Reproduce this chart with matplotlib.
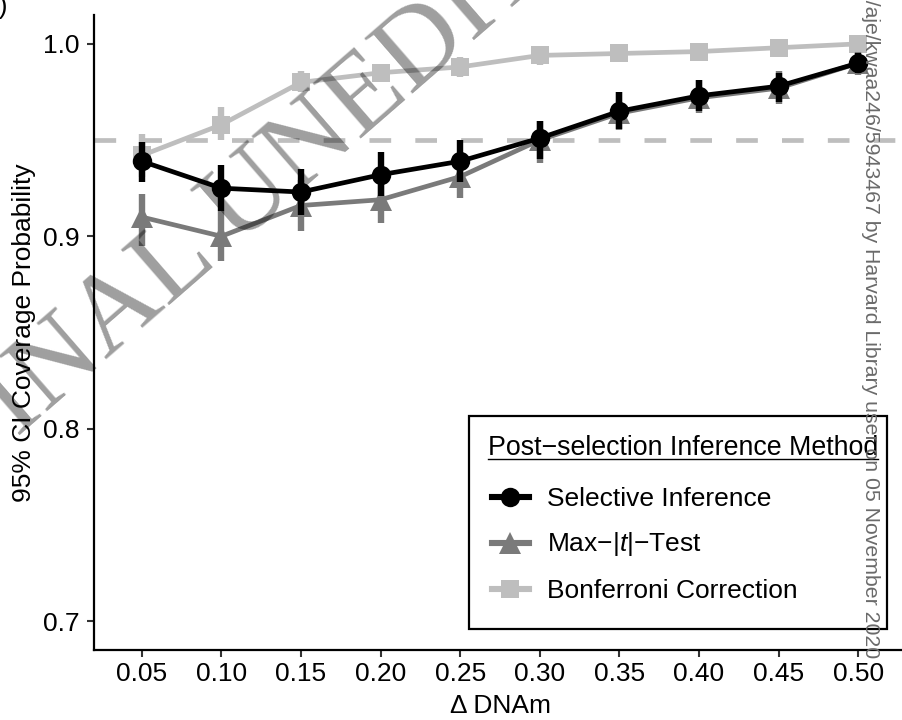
import matplotlib
matplotlib.use("Agg")
import matplotlib.pyplot as plt
from matplotlib.patches import Rectangle
from matplotlib.lines import Line2D

plt.rcParams["font.family"] = ["Liberation Sans", "DejaVu Sans"]
plt.rcParams["mathtext.fontset"] = "custom"
plt.rcParams["mathtext.rm"] = "Liberation Sans"
plt.rcParams["mathtext.it"] = "Liberation Sans:italic"
plt.rcParams["lines.scale_dashes"] = False

# ---- data -------------------------------------------------------------
delta = [0.05, 0.10, 0.15, 0.20, 0.25, 0.30, 0.35, 0.40, 0.45, 0.50]
x_tick_labels = ["0.05", "0.10", "0.15", "0.20", "0.25",
                 "0.30", "0.35", "0.40", "0.45", "0.50"]
y_ticks = [0.7, 0.8, 0.9, 1.0]
y_tick_labels = ["0.7", "0.8", "0.9", "1.0"]
nominal = 0.95

methods = ["Selective Inference", "Max\u2212|$t$|\u2212Test", "Bonferroni Correction"]

si_cov = [0.939, 0.925, 0.923, 0.932, 0.939, 0.951, 0.965, 0.973, 0.978, 0.990]
si_lo = [0.928, 0.913, 0.911, 0.921, 0.928, 0.940, 0.956, 0.965, 0.970, 0.985]
si_hi = [0.949, 0.937, 0.935, 0.944, 0.950, 0.960, 0.975, 0.981, 0.985, 0.995]

mt_cov = [0.910, 0.900, 0.916, 0.919, 0.931, 0.950, 0.964, 0.972, 0.977, 0.990]
mt_lo = [0.895, 0.887, 0.903, 0.907, 0.920, 0.938, 0.955, 0.964, 0.969, 0.984]
mt_hi = [0.922, 0.913, 0.929, 0.931, 0.943, 0.960, 0.975, 0.981, 0.986, 0.996]

bf_cov = [0.942, 0.958, 0.980, 0.985, 0.988, 0.994, 0.995, 0.996, 0.998, 1.000]
bf_lo = [0.931, 0.950, 0.975, 0.980, 0.983, 0.989, 0.991, 0.992, 0.995, 1.000]
bf_hi = [0.953, 0.967, 0.986, 0.989, 0.993, 0.998, 0.999, 0.999, 1.000, 1.000]

# ---- styles -----------------------------------------------------------
BLACK, DARK, LIGHT = "#000000", "#7a7a7a", "#bebebe"
series = [
    (methods[2], bf_cov, bf_lo, bf_hi, LIGHT, "s", 12.5),
    (methods[1], mt_cov, mt_lo, mt_hi, DARK, "^", 16),
    (methods[0], si_cov, si_lo, si_hi, BLACK, "o", 14),
]
LINE_W = 3.4
BAR_W = 4.6
FS = 19

W, H = 902, 720
fig = plt.figure(figsize=(W / 100, H / 100), dpi=100)
ax = fig.add_axes([94 / W, (H - 650) / H, (906 - 94) / W, (650 - 15) / H])

def fx(px):
    return px / W

def fy(py):
    return 1 - py / H

# reference level
ax.axhline(nominal, color=LIGHT, lw=3.4, dashes=(15.6, 17.4), zorder=1)

for i, (name, cov, lo, hi, col, mk, ms) in enumerate(series):
    z = 2 + i
    ax.vlines(delta, lo, hi, color=col, lw=BAR_W, zorder=z, capstyle="butt")
    ax.plot(delta, cov, color=col, lw=LINE_W, marker=mk, ms=ms,
            markeredgewidth=0, zorder=z + 0.5, clip_on=False,
            solid_joinstyle="round")

ax.set_xlim(0.02, 0.53)
ax.set_ylim(0.685, 1.015)
ax.set_xticks(delta)
ax.set_xticklabels(x_tick_labels)
ax.set_yticks(y_ticks)
ax.set_yticklabels(y_tick_labels)
for s in ("top", "right"):
    ax.spines[s].set_visible(False)
for s in ("left", "bottom"):
    ax.spines[s].set_linewidth(1.6)
    ax.spines[s].set_color("black")
ax.tick_params(axis="both", length=5, width=1.5, color="#333333",
               labelsize=FS, labelcolor="black")
ax.tick_params(axis="y", pad=5.5)
ax.tick_params(axis="x", pad=3.5)
ax.set_xlabel("\u0394 DNAm", fontsize=FS, labelpad=6)
ax.set_ylabel("95% CI Coverage Probability", fontsize=FS, labelpad=5)

# ---- legend -----------------------------------------------------------
fig.patches.append(Rectangle((fx(469), fy(629)), fx(887) - fx(469),
                             fy(416) - fy(629), transform=fig.transFigure,
                             fill=False, edgecolor="black", lw=1.6, zorder=10))
title = fig.text(fx(488), fy(455), "Post\u2212selection Inference Method",
                 fontsize=19.3, va="baseline", ha="left", zorder=11)
key_y = [497, 543, 589]
label_base = [505.5, 551.5, 598]
legend_order = [series[2], series[1], series[0]]
for (name, cov, lo, hi, col, mk, ms), ky, lb in zip(legend_order, key_y, label_base):
    fig.add_artist(Line2D([fx(492), fx(529)], [fy(ky), fy(ky)],
                          transform=fig.transFigure, color=col, lw=LINE_W + 1,
                          marker=None, zorder=11))
    fig.add_artist(Line2D([fx(510.5)], [fy(ky)], transform=fig.transFigure,
                          color=col, marker=mk, ms=ms, markeredgewidth=0,
                          lw=0, zorder=12))
    fig.text(fx(547), fy(lb), name, fontsize=FS, va="baseline", ha="left",
             zorder=11)

fig.canvas.draw()
bb = title.get_window_extent()
fig.add_artist(Line2D([bb.x0 / W, bb.x1 / W], [fy(459), fy(459)],
                      transform=fig.transFigure, color="black", lw=1.0,
                      zorder=11))

# panel tag (partly off the page)
fig.text(fx(8), fy(14), "b)", fontsize=FS, ha="right", va="baseline")

# diagonal manuscript stamp
fig.text(fx(-30), fy(478), "FINAL UNEDITED MANUSCRIPT",
         family="Liberation Serif", fontsize=80.6, rotation=41,
         rotation_mode="anchor", ha="left", va="baseline",
         color="black", alpha=0.38, zorder=20)

# download note along the right edge
fig.text(fx(870), fy(658),
         "Downloaded from https://academic.oup.com/aje/advance-article-abstract/"
         "doi/10.1093/aje/kwaa246/5943467 by Harvard Library user on 05 November 2020",
         fontsize=15.3, rotation=-90, rotation_mode="anchor", ha="right",
         va="center", color="#6a6a6a", zorder=21)

fig.savefig("out.png", dpi=100)
